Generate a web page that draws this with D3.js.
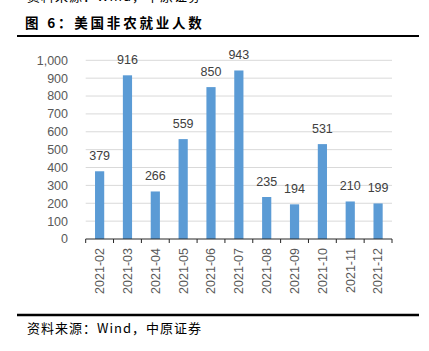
<!DOCTYPE html>
<html>
<head>
<meta charset="utf-8">
<script src="https://cdn.jsdelivr.net/npm/d3@7"></script>
<style>
  body { margin: 0; background: #fff; }
  svg { display: block; }
</style>
</head>
<body>
<div id="chart"></div>
<script>
// data
const months = ["2021-02","2021-03","2021-04","2021-05","2021-06","2021-07","2021-08","2021-09","2021-10","2021-11","2021-12"];
const payrolls = [379, 916, 266, 559, 850, 943, 235, 194, 531, 210, 199];
const yTicks = [0, 100, 200, 300, 400, 500, 600, 700, 800, 900, 1000];

const W = 429, H = 351;
const svg = d3.select("#chart").append("svg")
  .attr("width", W).attr("height", H);

// cropped source line at the very top (cut off in the original page too)
svg.append("text")
  .attr("x", 27).attr("y", 1)
  .style("font-family", "'Noto Sans CJK SC', sans-serif")
  .style("font-size", "13px")
  .style("letter-spacing", "1px")
  .attr("fill", "#000")
  .text("资料来源：Wind，中原证券");

// title
svg.append("text")
  .attr("x", 25).attr("y", 28)
  .style("font-family", "'Noto Sans CJK SC', sans-serif")
  .style("font-size", "13.5px")
  .style("font-weight", "bold")
  .style("letter-spacing", "2.8px")
  .attr("fill", "#000")
  .text("图 6：美国非农就业人数");

// top rule
svg.append("line")
  .attr("x1", 17).attr("x2", 419)
  .attr("y1", 36).attr("y2", 36)
  .attr("stroke", "#000").attr("stroke-width", 2);

// scales
const left = 85.7, right = 392, y0 = 239, yTop = 60.3;
const x = d3.scaleBand().domain(months).range([left, right]).paddingInner(0.67).paddingOuter(0.335);
const xTicks = d3.scaleBand().domain(months).range([left, right]);
const y = d3.scaleLinear().domain([0, 1000]).range([y0, yTop]);

// gridlines
svg.append("g")
  .selectAll("line")
  .data(yTicks.filter(d => d > 0))
  .enter()
  .append("line")
    .attr("x1", left).attr("x2", right)
    .attr("y1", d => y(d)).attr("y2", d => y(d))
    .attr("stroke", "#d9d9d9").attr("stroke-width", 1);

// y axis labels
svg.append("g")
  .selectAll("text")
  .data(yTicks)
  .enter()
  .append("text")
    .attr("x", 68)
    .attr("y", d => y(d))
    .attr("dy", "0.35em")
    .attr("text-anchor", "end")
    .style("font-family", "'Liberation Sans', Arial, sans-serif")
    .style("font-size", "12.5px")
    .attr("fill", "#595959")
    .text(d => d3.format(",")(d));

// bars
svg.append("g")
  .selectAll("rect")
  .data(payrolls)
  .enter()
  .append("rect")
    .attr("x", (d, i) => x(months[i]))
    .attr("y", d => y(d))
    .attr("width", x.bandwidth())
    .attr("height", d => y0 - y(d))
    .attr("fill", "#5b9bd5");

// value labels
svg.append("g")
  .selectAll("text")
  .data(payrolls)
  .enter()
  .append("text")
    .attr("x", (d, i) => x(months[i]) + x.bandwidth() / 2)
    .attr("y", d => y(d) - 11)
    .attr("text-anchor", "middle")
    .style("font-family", "'Liberation Sans', Arial, sans-serif")
    .style("font-size", "12.5px")
    .attr("fill", "#404040")
    .text(d => d);

// x axis
const xAxis = svg.append("g")
  .attr("transform", `translate(0,${y0})`);
xAxis.append("line")
  .attr("x1", left).attr("x2", right)
  .attr("y1", 0).attr("y2", 0)
  .attr("stroke", "#262626").attr("stroke-width", 1);
xAxis.selectAll(".tk")
  .data(months.concat(["end"]))
  .enter()
  .append("line")
    .attr("x1", (d, i) => i < months.length ? xTicks(d) : right)
    .attr("x2", (d, i) => i < months.length ? xTicks(d) : right)
    .attr("y1", 0).attr("y2", 4)
    .attr("stroke", "#262626").attr("stroke-width", 1);
xAxis.selectAll("text")
  .data(months)
  .enter()
  .append("text")
    .attr("transform", d => `translate(${xTicks(d) + xTicks.bandwidth() / 2},9) rotate(-90)`)
    .attr("dy", "0.35em")
    .attr("text-anchor", "end")
    .style("font-family", "'Liberation Sans', Arial, sans-serif")
    .style("font-size", "12.5px")
    .attr("fill", "#595959")
    .text(d => d);

// bottom rule
svg.append("line")
  .attr("x1", 17).attr("x2", 419)
  .attr("y1", 315).attr("y2", 315)
  .attr("stroke", "#000").attr("stroke-width", 2.5);

// source
svg.append("text")
  .attr("x", 27).attr("y", 333)
  .style("font-family", "'Noto Sans CJK SC', sans-serif")
  .style("font-size", "13px")
  .style("letter-spacing", "1px")
  .attr("fill", "#000")
  .text("资料来源：Wind，中原证券");
</script>
</body>
</html>
